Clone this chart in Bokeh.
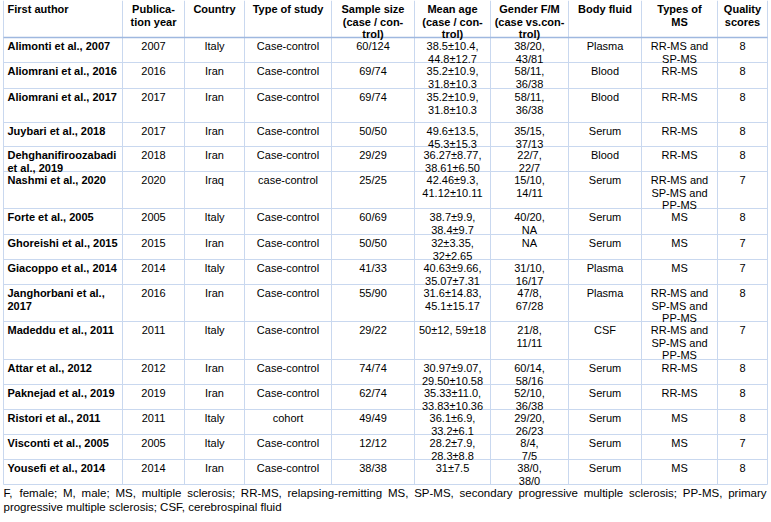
from bokeh.plotting import figure
from bokeh.models import ColumnDataSource, Range1d
from bokeh.core.properties import value
from bokeh.embed import file_html
from bokeh.resources import INLINE

# ---------------- data ----------------
headers = ["First author", "Publica-\ntion year", "Country", "Type of study",
           "Sample size\n(case / con-\ntrol)", "Mean age\n(case / con-\ntrol)",
           "Gender F/M\n(case vs.con-\ntrol)", "Body fluid", "Types of\nMS", "Quality\nscores"]

authors = ["Alimonti et al., 2007", "Aliomrani et al., 2016", "Aliomrani et al., 2017",
           "Juybari et al., 2018", "Dehghanifiroozabadi\net al., 2019", "Nashmi et al., 2020",
           "Forte et al., 2005", "Ghoreishi et al., 2015", "Giacoppo et al., 2014",
           "Janghorbani et al.,\n2017", "Madeddu et al., 2011", "Attar et al., 2012",
           "Paknejad et al., 2019", "Ristori et al., 2011", "Visconti et al., 2005",
           "Yousefi et al., 2014"]
years = ["2007", "2016", "2017", "2017", "2018", "2020", "2005", "2015", "2014", "2016",
         "2011", "2012", "2019", "2011", "2005", "2014"]
countries = ["Italy", "Iran", "Iran", "Iran", "Iran", "Iraq", "Italy", "Iran", "Italy", "Iran",
             "Italy", "Iran", "Iran", "Italy", "Italy", "Iran"]
study_types = ["Case-control", "Case-control", "Case-control", "Case-control", "Case-control",
               "case-control", "Case-control", "Case-control", "Case-control", "Case-control",
               "Case-control", "Case-control", "Case-control", "cohort", "Case-control",
               "Case-control"]
sample_sizes = ["60/124", "69/74", "69/74", "50/50", "29/29", "25/25", "60/69", "50/50",
                "41/33", "55/90", "29/22", "74/74", "62/74", "49/49", "12/12", "38/38"]
mean_ages = ["38.5±10.4,\n44.8±12.7", "35.2±10.9,\n31.8±10.3", "35.2±10.9,\n31.8±10.3",
             "49.6±13.5,\n45.3±15.3", "36.27±8.77,\n38.61±6.50", "42.46±9.3,\n41.12±10.11",
             "38.7±9.9,\n38.4±9.7", "32±3.35,\n32±2.65", "40.63±9.66,\n35.07±7.31",
             "31.6±14.83,\n45.1±15.17", "50±12, 59±18", "30.97±9.07,\n29.50±10.58",
             "35.33±11.0,\n33.83±10.36", "36.1±6.9,\n33.2±6.1", "28.2±7.9,\n28.3±8.8", "31±7.5"]
genders = ["38/20,\n43/81", "58/11,\n36/38", "58/11,\n36/38", "35/15,\n37/13", "22/7,\n22/7",
           "15/10,\n14/11", "40/20,\nNA", "NA", "31/10,\n16/17", "47/8,\n67/28", "21/8,\n11/11",
           "60/14,\n58/16", "52/10,\n36/38", "29/20,\n26/23", "8/4,\n7/5", "38/0,\n38/0"]
body_fluids = ["Plasma", "Blood", "Blood", "Serum", "Blood", "Serum", "Serum", "Serum",
               "Plasma", "Plasma", "CSF", "Serum", "Serum", "Serum", "Serum", "Serum"]
ms_types = ["RR-MS and\nSP-MS", "RR-MS", "RR-MS", "RR-MS", "RR-MS",
            "RR-MS and\nSP-MS and\nPP-MS", "MS", "MS", "MS", "RR-MS and\nSP-MS and\nPP-MS",
            "RR-MS and\nSP-MS and\nPP-MS", "RR-MS", "RR-MS", "MS", "MS", "MS"]
quality_scores = ["8", "8", "8", "8", "8", "7", "8", "7", "7", "8", "7", "8", "8", "8", "7", "8"]
footnote_lines = [
    "F, female; M, male; MS, multiple sclerosis; RR-MS, relapsing-remitting MS, SP-MS, "
    "secondary progressive multiple sclerosis; PP-MS, primary",
    "progressive multiple sclerosis; CSF, cerebrospinal fluid",
]

columns = [authors, years, countries, study_types, sample_sizes, mean_ages, genders,
           body_fluids, ms_types, quality_scores]

# ---------------- layout ----------------
col_edges = [3, 122, 184, 244, 331, 414, 490, 568, 641, 717, 767]
row_edges = [0, 37, 62, 88, 122, 146, 171, 208, 234, 259, 284, 321, 359, 384, 409, 434, 459, 484]
FIRST_OFF = 8.5
LINE_H = 12.5
FONT = value("Liberation Sans")
FS_PX = 11.0
FS = "%gpx" % FS_PX
FOOT_PX = 11.5
FOOT_FS = "%gpx" % FOOT_PX
GRID = "#c9d8ef"
HEAD_LINE = "#9fb8df"
foot_y = [492, 506]

W, H = 771, 522
p = figure(width=W, height=H, output_backend="svg", toolbar_location=None, title=None,
           x_range=Range1d(0, W), y_range=Range1d(H, 0),
           min_border=0, min_border_left=0, min_border_right=0,
           min_border_top=0, min_border_bottom=0)
p.axis.visible = False
p.grid.visible = False
p.outline_line_color = None
p.background_fill_color = "white"
p.border_fill_color = "white"

# grid lines
top, bottom = row_edges[0], row_edges[-1]
p.segment(x0=col_edges, y0=[top] * len(col_edges), x1=col_edges, y1=[bottom] * len(col_edges),
          line_color=GRID, line_width=1)
hr = row_edges[2:]
p.segment(x0=[col_edges[0]] * len(hr), y0=hr, x1=[col_edges[-1]] * len(hr), y1=hr,
          line_color=GRID, line_width=1)
p.segment(x0=[col_edges[0]], y0=[row_edges[1]], x1=[col_edges[-1]], y1=[row_edges[1]],
          line_color=HEAD_LINE, line_width=1.3)


def cell_lines(text, ci, rtop):
    out = []
    for k, ln in enumerate(str(text).split("\n")):
        if ci == 0:
            x = col_edges[0] + 4
        else:
            x = (col_edges[ci] + col_edges[ci + 1]) / 2
        out.append((x, rtop + FIRST_OFF + k * LINE_H, ln))
    return out


groups = {"bold_left": [], "bold_center": [], "norm_center": []}
for ci, h in enumerate(headers):
    groups["bold_left" if ci == 0 else "bold_center"].extend(cell_lines(h, ci, row_edges[0]))
for ri in range(len(authors)):
    rtop = row_edges[ri + 1]
    for ci, col in enumerate(columns):
        key = "bold_left" if ci == 0 else "norm_center"
        groups[key].extend(cell_lines(col[ri], ci, rtop))

for key, items in groups.items():
    src = ColumnDataSource(dict(x=[i[0] for i in items], y=[i[1] for i in items],
                                t=[i[2] for i in items]))
    p.text(x="x", y="y", text="t", source=src, text_font=FONT, text_font_size=FS,
           text_font_style="bold" if key.startswith("bold") else "normal",
           text_align="left" if key.endswith("left") else "center",
           text_baseline="middle", text_color="#000000")

# footnote with justified first line
AW = {' ': 278, ',': 278, '.': 278, ';': 278, ':': 278, '-': 333, '/': 278, '(': 333, ')': 333,
      'a': 556, 'b': 556, 'c': 500, 'd': 556, 'e': 556, 'f': 278, 'g': 556, 'h': 556, 'i': 222,
      'j': 222, 'k': 500, 'l': 222, 'm': 833, 'n': 556, 'o': 556, 'p': 556, 'q': 556, 'r': 333,
      's': 500, 't': 278, 'u': 556, 'v': 500, 'w': 722, 'x': 500, 'y': 500, 'z': 500,
      'A': 667, 'B': 667, 'C': 722, 'D': 722, 'E': 667, 'F': 611, 'G': 778, 'H': 722, 'I': 278,
      'M': 833, 'N': 722, 'P': 667, 'R': 722, 'S': 667, 'T': 611}


def tw(s):
    return sum(AW.get(c, 556) for c in s) / 1000.0 * FOOT_PX


fx, fy, ft = [], [], []
for li, line in enumerate(footnote_lines):
    words = line.split(" ")
    if li < len(footnote_lines) - 1 and len(words) > 1:
        total = sum(tw(w) for w in words)
        gap = (col_edges[-1] - 1 - col_edges[0] - total) / (len(words) - 1)
        x = col_edges[0]
        for w in words:
            fx.append(x); fy.append(foot_y[li]); ft.append(w)
            x += tw(w) + gap
    else:
        fx.append(col_edges[0]); fy.append(foot_y[li]); ft.append(line)
p.text(x=fx, y=fy, text=ft, text_font=FONT, text_font_size=FOOT_FS, text_align="left",
       text_baseline="middle", text_color="#000000")

open("out.html", "w").write(file_html(p, INLINE))
